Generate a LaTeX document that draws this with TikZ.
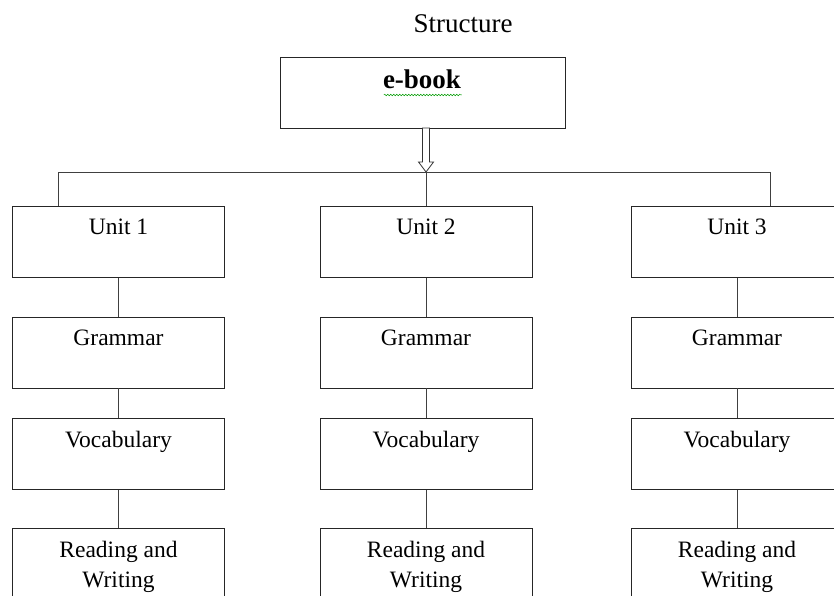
\documentclass[tikz,border=0pt]{standalone}
\usepackage{fontspec}
\setmainfont{Liberation Serif}
\usetikzlibrary{decorations.pathmorphing,calc}
\begin{document}
\begin{tikzpicture}[x=1pt,y=-1pt,
  box/.style={draw=black!85, line width=0.9pt, minimum width=212pt, minimum height=71pt, inner sep=0pt},
  lbl/.style={font=\fontsize{23.5}{30}\selectfont, anchor=north, inner sep=0pt, align=center, yshift=-13pt},
  conn/.style={draw=black!75, line width=0.9pt}]
\useasboundingbox (0,0) rectangle (834,596);
\clip (0,0) rectangle (834,596);
% title
\node[font=\fontsize{27}{30}\selectfont, inner sep=0pt, anchor=base] (title) at (463,33) {Structure};
% e-book
\node[box, minimum width=285pt, minimum height=71pt] (eb) at (422.5,92.5) {};
\node[font=\bfseries\fontsize{27}{30}\selectfont, inner sep=0pt, anchor=base] (ebt) at (422,89) {e-book};
\draw[green!60!black, line width=0.5pt, decorate, decoration={snake, amplitude=0.8pt, segment length=3pt}] (ebt.base west) ++(1,6) -- ++(78,0);
% hollow arrow
\coordinate (tip) at (426,172);
\draw[black!80, line width=0.8pt, fill=white] (422.5,128) -- (429.5,128) -- (429.5,162) -- (433.5,162) -- (tip) -- (418.5,162) -- (422.5,162) -- cycle;
% bus
\coordinate (busL) at (58,172);
\coordinate (busR) at (770,172);
\draw[conn] (busL) -- (busR);
% columns
\foreach \n/\cx/\t in {1/118.5/Unit 1, 2/426/Unit 2, 3/737/Unit 3}{
  \node[box, label={[lbl]north:\t}] (u\n) at (\cx,242) {};
  \node[box, label={[lbl]north:Grammar}] (g\n) at (\cx,352.5) {};
  \node[box, label={[lbl]north:Vocabulary}] (v\n) at (\cx,454) {};
  \node[box, label={[lbl]north:Reading and\\Writing}] (r\n) at (\cx,563.5) {};
  \draw[conn] (u\n) -- (g\n);
  \draw[conn] (g\n) -- (v\n);
  \draw[conn] (v\n) -- (r\n);
}
\draw[conn] (busL) -- (busL |- u1.north);
\draw[conn] (tip) -- (tip |- u2.north);
\draw[conn] (busR) -- (busR |- u3.north);
\end{tikzpicture}
\end{document}
